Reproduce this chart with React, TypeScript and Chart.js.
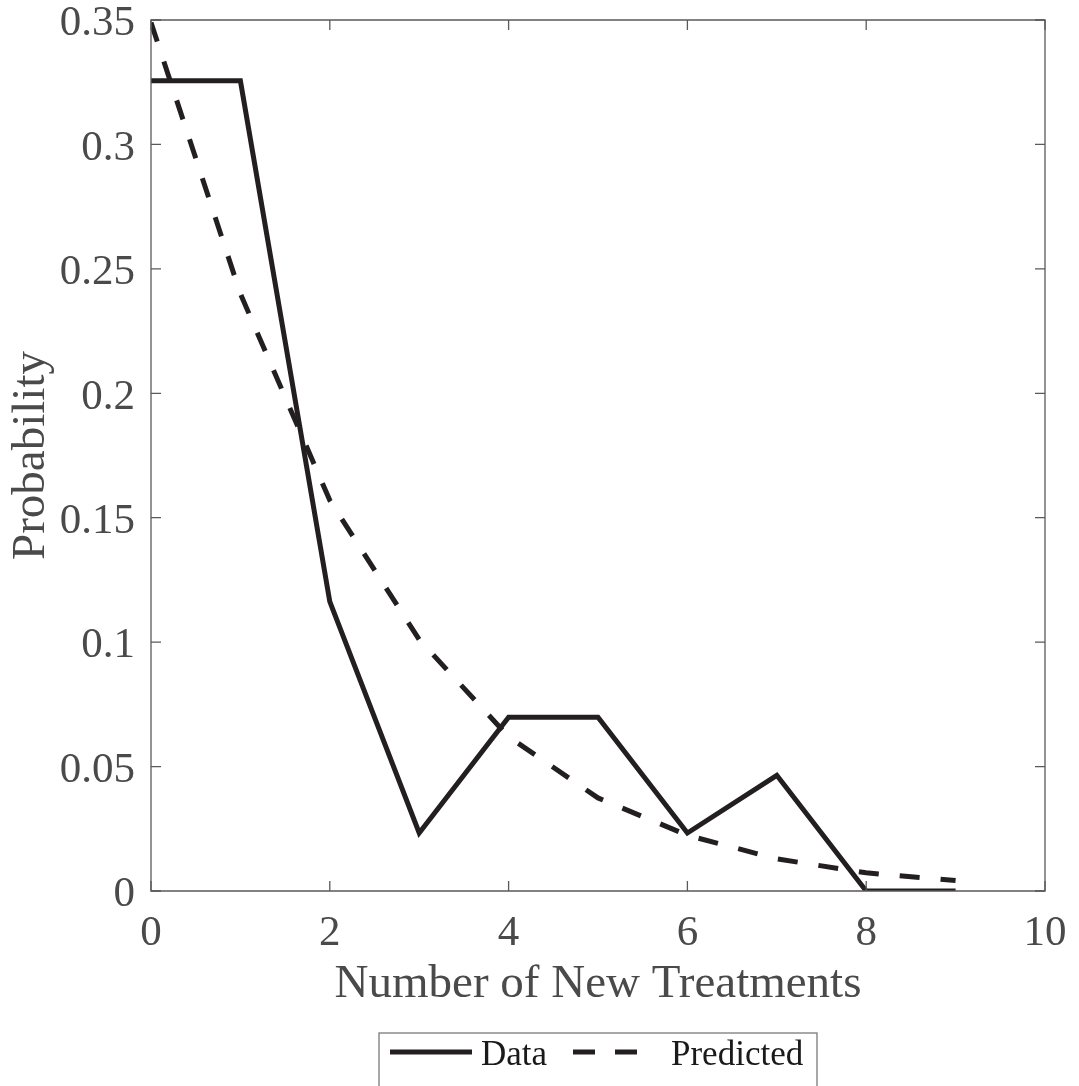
import React, { useEffect, useRef } from "react";
import { Chart, registerables } from "chart.js";

Chart.register(...registerables);

// ---- data ----
const xValues = [0, 1, 2, 3, 4, 5, 6, 7, 8, 9];
const dataValues = [0.3256, 0.3256, 0.1163, 0.0233, 0.0698, 0.0698, 0.0233, 0.0465, 0, 0];
const predictedValues = [0.349, 0.240, 0.157, 0.101, 0.062, 0.0374, 0.0224, 0.0129, 0.0073, 0.0042];
const seriesLabels = ["Data", "Predicted"];

const xTicks = [0, 2, 4, 6, 8, 10];
const xTickLabels = ["0", "2", "4", "6", "8", "10"];
const yTicks = [0, 0.05, 0.1, 0.15, 0.2, 0.25, 0.3, 0.35];
const yTickLabels = ["0", "0.05", "0.1", "0.15", "0.2", "0.25", "0.3", "0.35"];
const xTitle = "Number of New Treatments";
const yTitle = "Probability";

const FONT = "'Liberation Serif', 'Times New Roman', Times, serif";
const LINE_COLOR = "#231f20";
const AXIS_COLOR = "#5a5a5a";
const TEXT_COLOR = "#4a4a4a";

const matlabPlugin = {
  id: "matlabBox",
  afterDatasetsDraw(chart: any) {
    const { ctx, chartArea } = chart;
    const { left, right, top, bottom } = chartArea;
    const xs = chart.scales.x;
    const ys = chart.scales.y;
    const tl = 10;
    ctx.save();
    ctx.strokeStyle = AXIS_COLOR;
    ctx.lineWidth = 1.3;
    ctx.setLineDash([]);
    ctx.beginPath();
    ctx.rect(left, top, right - left, bottom - top);
    ctx.stroke();
    ctx.beginPath();
    xTicks.forEach((v) => {
      const px = xs.getPixelForValue(v);
      ctx.moveTo(px, bottom);
      ctx.lineTo(px, bottom - tl);
      ctx.moveTo(px, top);
      ctx.lineTo(px, top + tl);
    });
    yTicks.forEach((v) => {
      const py = ys.getPixelForValue(v);
      ctx.moveTo(left, py);
      ctx.lineTo(left + tl, py);
      ctx.moveTo(right, py);
      ctx.lineTo(right - tl, py);
    });
    ctx.stroke();
    ctx.restore();
  },
  afterDraw(chart: any) {
    const { ctx, chartArea } = chart;
    const cx = (chartArea.left + chartArea.right) / 2;
    const boxW = 438;
    const boxL = Math.round(cx - boxW / 2);
    const boxT = 1033;
    ctx.save();
    ctx.strokeStyle = "#7a7a7a";
    ctx.lineWidth = 1.3;
    ctx.setLineDash([]);
    ctx.strokeRect(boxL, boxT, boxW, 80);

    const ds = chart.data.datasets;
    const lineY = 1052;
    ctx.font = `35px ${FONT}`;
    ctx.fillStyle = "#1a1a1a";
    ctx.textBaseline = "alphabetic";
    ctx.textAlign = "left";
    // Data
    ctx.strokeStyle = ds[0].borderColor;
    ctx.lineWidth = ds[0].borderWidth;
    ctx.beginPath();
    ctx.moveTo(boxL + 11, lineY);
    ctx.lineTo(boxL + 93, lineY);
    ctx.stroke();
    ctx.fillText(ds[0].label, boxL + 102, 1065);
    // Predicted
    ctx.strokeStyle = ds[1].borderColor;
    ctx.lineWidth = ds[1].borderWidth;
    ctx.setLineDash([22, 20]);
    ctx.beginPath();
    ctx.moveTo(boxL + 194, lineY);
    ctx.lineTo(boxL + 260, lineY);
    ctx.stroke();
    ctx.setLineDash([]);
    ctx.fillText(ds[1].label, boxL + 292, 1065);
    ctx.restore();
  },
};

export default function App() {
  const canvasRef = useRef<HTMLCanvasElement | null>(null);

  useEffect(() => {
    const canvas = canvasRef.current;
    if (!canvas) return;
    const chart = new Chart(canvas, {
      type: "line",
      data: {
        datasets: [
          {
            label: seriesLabels[0],
            data: xValues.map((x, i) => ({ x, y: dataValues[i] })),
            borderColor: LINE_COLOR,
            borderWidth: 5,
            pointRadius: 0,
            tension: 0,
            fill: false,
            borderJoinStyle: "miter",
            borderCapStyle: "butt",
          },
          {
            label: seriesLabels[1],
            data: xValues.map((x, i) => ({ x, y: predictedValues[i] })),
            borderColor: LINE_COLOR,
            borderWidth: 5,
            borderDash: [20, 21],
            pointRadius: 0,
            tension: 0,
            fill: false,
            borderCapStyle: "butt",
          },
        ],
      },
      options: {
        responsive: false,
        animation: false,
        devicePixelRatio: 1,
        layout: { padding: { top: 20, right: 34, left: 0, bottom: 73 } },
        plugins: {
          legend: { display: false },
          tooltip: { enabled: false },
        },
        scales: {
          x: {
            type: "linear",
            min: 0,
            max: 10,
            grid: { display: false, drawTicks: false },
            border: { display: false },
            afterBuildTicks: (scale: any) => {
              scale.ticks = xTicks.map((v) => ({ value: v }));
            },
            afterFit: (scale: any) => {
              scale.height = 122;
              scale.paddingLeft = 0;
              scale.paddingRight = 0;
            },
            ticks: {
              autoSkip: false,
              maxRotation: 0,
              padding: 17,
              color: TEXT_COLOR,
              font: { family: FONT, size: 43 },
              callback: (_v: any, i: number) => xTickLabels[i],
            },
            title: {
              display: true,
              text: xTitle,
              color: TEXT_COLOR,
              font: { family: FONT, size: 47 },
              padding: { top: 0, bottom: 0 },
            },
          },
          y: {
            type: "linear",
            min: 0,
            max: 0.35,
            grid: { display: false, drawTicks: false },
            border: { display: false },
            afterBuildTicks: (scale: any) => {
              scale.ticks = yTicks.map((v) => ({ value: v }));
            },
            afterFit: (scale: any) => {
              scale.width = 151;
              scale.paddingTop = 0;
              scale.paddingBottom = 0;
            },
            ticks: {
              autoSkip: false,
              padding: 16,
              labelOffset: 4,
              color: TEXT_COLOR,
              font: { family: FONT, size: 43 },
              callback: (_v: any, i: number) => yTickLabels[i],
            },
            title: {
              display: true,
              text: yTitle,
              color: TEXT_COLOR,
              font: { family: FONT, size: 47 },
              padding: { top: 3, bottom: 0 },
            },
          },
        },
      },
      plugins: [matlabPlugin],
    } as any);
    return () => chart.destroy();
  }, []);

  return (
    <div style={{ position: "absolute", left: 0, top: 0, width: 1079, height: 1086, background: "#fff" }}>
      <canvas ref={canvasRef} width={1079} height={1086} style={{ display: "block" }} />
    </div>
  );
}
